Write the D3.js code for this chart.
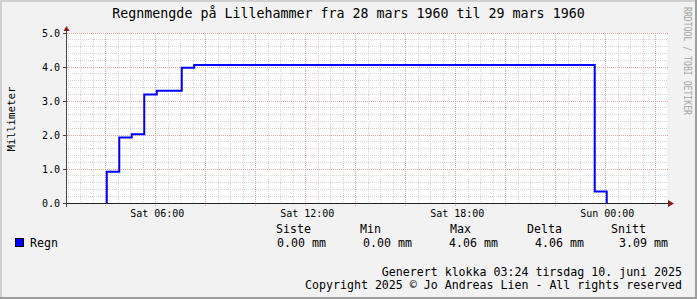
<!DOCTYPE html>
<html>
<head>
<meta charset="utf-8">
<script src="https://cdn.jsdelivr.net/npm/d3@7"></script>
<style>
  body { margin: 0; background: #f2f2f2; }
  svg { display: block; font-family: "DejaVu Sans Mono", monospace; }
  .grid-minor { stroke: #d4d4d4; stroke-width: 1; stroke-dasharray: 1,1; }
  .grid-major { stroke: #e4a4a4; stroke-width: 1; stroke-dasharray: 1,1; }
  .tick text { font-family: "DejaVu Sans Mono", monospace; fill: #000; }
</style>
</head>
<body>
<svg id="chart" width="697" height="299"></svg>
<script>
// hour of day (24+ = Sunday) where the reading changes, rain in mm
var stepHours = [4.04, 4.04, 4.54, 5.04, 5.54, 6.04, 7.04, 7.54, 23.56, 24.04];
var rainMm    = [0,    0.92, 1.93, 2.02, 3.19, 3.30, 3.98, 4.06, 0.34,  0];

var timeSpan = [2.45, 26.45],
    mmSpan = [0, 5],
    xTickHours = [6, 12, 18, 24],
    xTickLabels = ["Sat 06:00", "Sat 12:00", "Sat 18:00", "Sun 00:00"],
    yTicks = [0, 1, 2, 3, 4, 5],
    statNames = ["Siste", "Min", "Max", "Delta", "Snitt"],
    statValues = ["0.00 mm", "0.00 mm", "4.06 mm", "4.06 mm", "3.09 mm"];

(function () {
    var svg = d3.select("#chart"),
        width = 697,
        height = 299,
        pl = 67, pr = 667, pt = 33, pb = 203;

    var x = d3.scaleLinear().domain(timeSpan).range([pl, pr]),
        y = d3.scaleLinear().domain(mmSpan).range([pb, pt]);

    function crisp(v) { return Math.floor(v) + 0.5; }

    // background and frame
    svg.append("rect").attr("width", width).attr("height", height).attr("fill", "#f2f2f2");
    svg.append("path").attr("d", "M0,0H697V2H2V299H0Z").attr("fill", "#cfcfcf");
    svg.append("path").attr("d", "M697,0V299H0V297H695V0Z").attr("fill", "#9e9e9e");

    // plot canvas
    svg.append("rect")
        .attr("x", pl).attr("y", pt)
        .attr("width", pr - pl).attr("height", pb - pt)
        .attr("fill", "#fff");

    // grid: minor every 30 min / 0.2 mm, major every 2 h / 1 mm
    var minorX = d3.range(2.5, 26.45, 0.5).filter(function(h){ return h % 2 !== 0; }),
        majorX = d3.range(4, 26.45, 2),
        minorY = d3.range(0.2, 5, 0.2).filter(function(v){ return Math.abs(v - Math.round(v)) > 0.01; });

    svg.append("g").selectAll("line").data(minorX).enter().append("line")
        .attr("class", "grid-minor")
        .attr("x1", function(d){ return crisp(x(d)); }).attr("x2", function(d){ return crisp(x(d)); })
        .attr("y1", pt).attr("y2", pb + 1);

    svg.append("g").selectAll("line").data(minorY).enter().append("line")
        .attr("class", "grid-minor")
        .attr("y1", function(d){ return crisp(y(d)); }).attr("y2", function(d){ return crisp(y(d)); })
        .attr("x1", pl - 1).attr("x2", pr);

    svg.append("g").selectAll("line").data(majorX).enter().append("line")
        .attr("class", "grid-major")
        .attr("x1", function(d){ return crisp(x(d)); }).attr("x2", function(d){ return crisp(x(d)); })
        .attr("y1", pt).attr("y2", pb + 3);

    svg.append("g").selectAll("line").data(yTicks.slice(1)).enter().append("line")
        .attr("class", "grid-major")
        .attr("y1", function(d){ return crisp(y(d)); }).attr("y2", function(d){ return crisp(y(d)); })
        .attr("x1", pl).attr("x2", pr + 2);

    // rain line
    var pts = d3.zip(stepHours, rainMm);
    svg.append("path")
        .datum(pts)
        .attr("fill", "none")
        .attr("stroke", "#0000ff")
        .attr("stroke-width", 2)
        .attr("d", d3.line()
            .x(function(d){ return x(d[0]); })
            .y(function(d){ return y(d[1]); })
            .curve(d3.curveStepAfter));

    // axes
    svg.append("line")
        .attr("x1", pl - 4).attr("x2", pr + 4)
        .attr("y1", crisp(pb)).attr("y2", crisp(pb))
        .attr("stroke", "#222");
    svg.append("line")
        .attr("x1", pl - 0.5).attr("x2", pl - 0.5)
        .attr("y1", pb + 4).attr("y2", pt - 4)
        .attr("stroke", "#444");
    svg.append("g").selectAll("line").data(yTicks).enter().append("line")
        .attr("x1", pl - 4).attr("x2", pl)
        .attr("y1", function(d){ return crisp(y(d)); }).attr("y2", function(d){ return crisp(y(d)); })
        .attr("stroke", "#444");

    // arrows
    svg.append("path").attr("d", "M63.5,31L66.5,26L69.5,31Z").attr("fill", "#8c1c1c");
    svg.append("path").attr("d", "M668,200L674,203.5L668,207Z").attr("fill", "#8c1c1c");

    var xAxis = d3.axisBottom(x)
        .tickValues(xTickHours)
        .tickSize(0)
        .tickPadding(7)
        .tickFormat(function(d, i){ return xTickLabels[i]; });

    svg.append("g")
        .attr("transform", "translate(0," + pb + ")")
        .call(xAxis)
        .call(function(g){ g.select(".domain").remove(); })
        .selectAll("text").attr("font-size", 10).attr("x", 1);

    var yAxis = d3.axisLeft(y)
        .tickValues(yTicks)
        .tickSize(0)
        .tickPadding(7)
        .tickFormat(d3.format(".1f"));

    svg.append("g")
        .attr("transform", "translate(" + pl + ",0)")
        .call(yAxis)
        .call(function(g){ g.select(".domain").remove(); })
        .selectAll("text").attr("font-size", 10).attr("dy", "0.36em");

    // title and axis title
    svg.append("text")
        .attr("x", 348.5).attr("y", 18)
        .attr("text-anchor", "middle")
        .attr("font-size", 13.3)
        .text("Regnmengde på Lillehammer fra 28 mars 1960 til 29 mars 1960");

    svg.append("text")
        .attr("transform", "translate(15," + ((pt + pb) / 2 + 1) + ") rotate(-90)")
        .attr("text-anchor", "middle")
        .attr("font-size", 10.8)
        .text("Millimeter");

    svg.append("text")
        .attr("transform", "translate(684,7) rotate(90)")
        .attr("font-size", 10)
        .attr("fill", "#a6a6a6")
        .attr("textLength", 108)
        .attr("lengthAdjust", "spacingAndGlyphs")
        .text("RRDTOOL / TOBI OETIKER");

    // legend
    svg.append("rect")
        .attr("x", 15.5).attr("y", 238.5).attr("width", 8).attr("height", 8)
        .attr("fill", "#0000ff").attr("stroke", "#000");
    svg.append("text")
        .attr("x", 30).attr("y", 247).attr("font-size", 11.6)
        .text("Regn");

    var headX = [276, 360, 450, 527, 611],
        valX = [277, 363, 449, 535, 619];

    svg.append("g").selectAll("text").data(statNames).enter().append("text")
        .attr("x", function(d, i){ return headX[i]; })
        .attr("y", 233)
        .attr("font-size", 11.6)
        .text(function(d){ return d; });

    svg.append("g").selectAll("text").data(statValues).enter().append("text")
        .attr("x", function(d, i){ return valX[i]; })
        .attr("y", 247)
        .attr("font-size", 11.6)
        .text(function(d){ return d; });

    svg.append("text")
        .attr("x", 682).attr("y", 276)
        .attr("text-anchor", "end").attr("font-size", 11.6)
        .text("Generert klokka 03:24 tirsdag 10. juni 2025");
    svg.append("text")
        .attr("x", 682).attr("y", 289)
        .attr("text-anchor", "end").attr("font-size", 11.6)
        .text("Copyright 2025 © Jo Andreas Lien - All rights reserved");
})();
</script>
</body>
</html>
